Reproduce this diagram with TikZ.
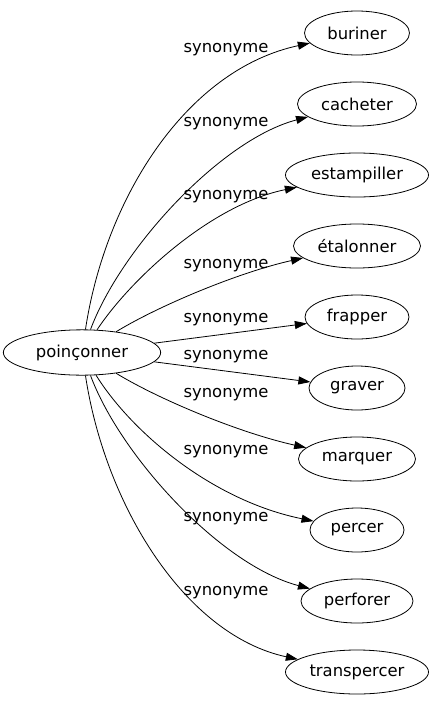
\documentclass[tikz,border=0pt]{standalone}
\usepackage{fontspec}
\setmainfont{DejaVu Sans}
\usetikzlibrary{arrows.meta,shapes.geometric}
\tikzset{>={Triangle[length=9pt,width=6pt]}}
\tikzset{
    word/.style={draw, ellipse, inner sep=0pt, minimum height=33pt, font=\fontsize{12.3}{14}\selectfont},
    rel/.style={font=\fontsize{12.3}{14}\selectfont, inner sep=0pt},
}

\begin{document}
\begin{tikzpicture}[x=0.75pt,y=-0.75pt,line width=0.6pt]
    \useasboundingbox (0,0) rectangle (435,707);

    % centre word
    \node[word, minimum width=118pt, minimum height=34pt] (poin) at (82,352.5) {poinçonner};

    % synonyms
    \node[word, minimum width=78.75pt] (buriner) at (357,33) {buriner};
    \node[word, minimum width=89.25pt] (cacheter) at (357,104) {cacheter};
    \node[word, minimum width=107.25pt] (estampiller) at (357,175) {estampiller};
    \node[word, minimum width=95.25pt] (etalonner) at (357,246) {étalonner};
    \node[word, minimum width=78pt] (frapper) at (357,317) {frapper};
    \node[word, minimum width=72pt] (graver) at (357,388) {graver};
    \node[word, minimum width=87.75pt] (marquer) at (357,459) {marquer};
    \node[word, minimum width=70.5pt] (percer) at (357,530) {percer};
    \node[word, minimum width=84pt] (perforer) at (357,601) {perforer};
    \node[word, minimum width=107.25pt] (transpercer) at (357,672) {transpercer};

    % edges
    \draw[->] (poin) .. controls (105,200) and (185,70) .. (buriner);
    \draw[->] (poin) .. controls (120,250) and (220,140) .. (cacheter);
    \draw[->] (poin) .. controls (130,280) and (210,205) .. (estampiller);
    \draw[->] (poin) .. controls (160,305) and (240,272) .. (etalonner);
    \draw[->] (poin) -- (frapper);
    \draw[->] (poin) -- (graver);
    \draw[->] (poin) .. controls (160,400) and (240,433) .. (marquer);
    \draw[->] (poin) .. controls (130,430) and (210,500) .. (percer);
    \draw[->] (poin) .. controls (120,455) and (220,565) .. (perforer);
    \draw[->] (poin) .. controls (105,505) and (185,635) .. (transpercer);

    % labels
    \node[rel] (l1) at (226,50) {synonyme};
    \node[rel] (l2) at (226,124) {synonyme};
    \node[rel] (l3) at (226,197) {synonyme};
    \node[rel] (l4) at (226,266) {synonyme};
    \node[rel] (l5) at (226,320) {synonyme};
    \node[rel] (l6) at (226,357) {synonyme};
    \node[rel] (l7) at (226,395) {synonyme};
    \node[rel] (l8) at (226,452) {synonyme};
    \node[rel] (l9) at (226,519) {synonyme};
    \node[rel] (l10) at (226,593) {synonyme};
\end{tikzpicture}
\end{document}
